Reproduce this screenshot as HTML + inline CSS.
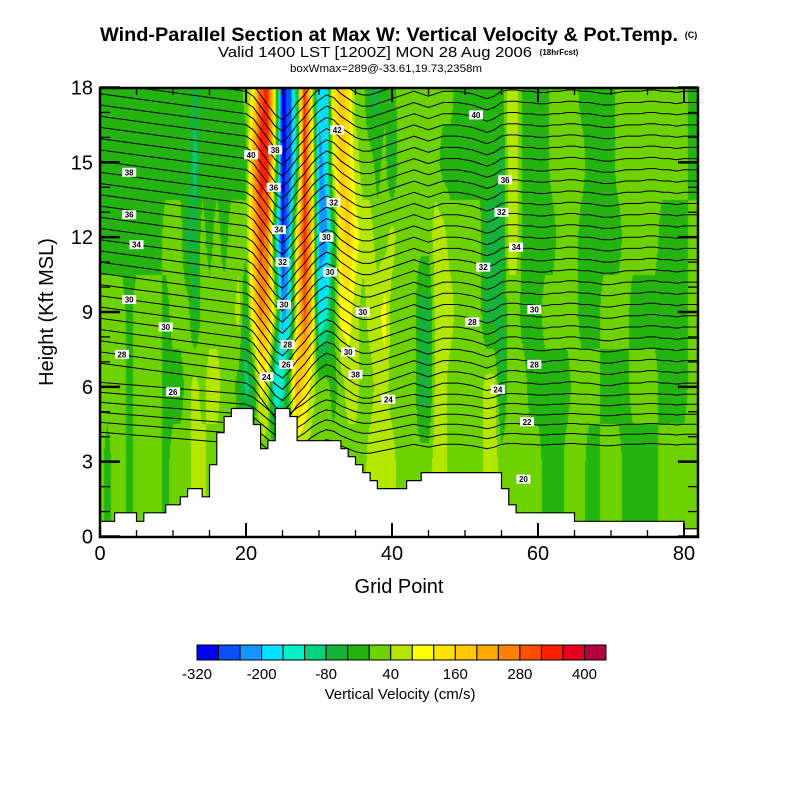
<!DOCTYPE html>
<html><head><meta charset="utf-8">
<style>
html,body{margin:0;padding:0;background:#fff;}
#wrap{position:relative;width:800px;height:800px;overflow:hidden;font-family:"Liberation Sans",Arial,sans-serif;}
#heat{position:absolute;left:100px;top:88px;}
#ov{position:absolute;left:0;top:0;}
</style></head>
<body>
<div id="wrap">
<canvas id="heat" width="598" height="449"></canvas>
<svg id="ov" width="800" height="800" xmlns="http://www.w3.org/2000/svg">
  <defs><clipPath id="pc"><rect x="100" y="88" width="598" height="449"/></clipPath></defs>
  <g id="contours" clip-path="url(#pc)"></g>
  <g id="terrain" clip-path="url(#pc)"></g>
  <g id="clabels"></g>
  <g id="axes"></g>
  <text x="100" y="41" textLength="578" lengthAdjust="spacingAndGlyphs" font-size="19" font-weight="bold">Wind-Parallel Section at Max W: Vertical Velocity &amp; Pot.Temp.</text>
  <text x="691" y="38" text-anchor="middle" font-size="9" font-weight="bold">(C)</text>
  <text x="218" y="57" textLength="314" lengthAdjust="spacingAndGlyphs" font-size="14.5">Valid 1400 LST [1200Z] MON 28 Aug 2006</text>
  <text x="559" y="55" text-anchor="middle" font-size="8" font-weight="bold">(18hrFcst)</text>
  <text x="290" y="72" textLength="192" lengthAdjust="spacingAndGlyphs" font-size="11">boxWmax=289@-33.61,19.73,2358m</text>
  <text x="399" y="593" text-anchor="middle" font-size="20">Grid Point</text>
  <text transform="translate(53,312) rotate(-90)" text-anchor="middle" font-size="20">Height (Kft MSL)</text>
  <g id="cbar"></g>
  <text x="400" y="699" text-anchor="middle" font-size="15">Vertical Velocity (cm/s)</text>
</svg>
</div>
<script>
// ---- data ----
const levels = [18, 15, 12, 9, 6, 3];
const wRow18 = [-20,-20,-20,-20,-20,-20,-20,-20,-20,-20,-20,-20,-20,-60,-20,-20,-20,-20,-20,-20,20,100,300,340,60,-300,-260,-60,340,100,-180,-180,140,180,140,20,20,-60,-60,-20,-20,20,20,20,20,20,20,20,20,-20,-20,-20,-20,-20,-20,-20,60,60,-20,-20,-20,-20,20,20,20,20,-20,-20,-20,-20,-20,20,20,20,20,20,20,20,20,20,20,-20,-20];
const wRow15 = [-20,-20,-20,-20,-20,-20,-20,-20,-20,-20,-20,-20,-20,-100,-20,-20,-20,-20,-20,-20,-20,220,340,340,60,-300,-260,-100,340,140,-220,-180,100,180,140,60,20,20,-20,20,-60,20,20,20,20,20,20,-20,-20,-20,-20,-20,-20,-20,-20,-60,60,60,-20,-20,-20,-20,20,20,20,20,20,-20,-20,-20,-20,20,20,20,20,20,20,20,20,20,20,-20,-20];
const wRow12 = [-20,-20,-20,-20,-20,-20,-20,-20,-20,20,20,20,-60,-60,20,-20,20,-20,20,20,20,180,300,260,-100,-300,-180,140,340,180,-220,-220,-60,140,180,100,60,60,20,20,60,20,20,20,20,20,60,60,20,20,20,20,20,-60,-60,-60,60,60,-20,-20,-20,-20,-20,20,20,20,-20,-20,-20,-20,-20,-20,20,20,20,20,20,-20,-20,-20,-20,20,20];
const wRow9 = [20,20,20,20,-20,20,20,20,20,-20,20,20,20,-60,20,20,20,20,20,60,-60,140,260,220,60,-220,-180,100,300,180,-180,-140,-20,100,100,60,20,60,60,100,20,20,20,20,-60,-60,60,60,60,20,20,20,20,-60,-60,-60,20,20,-20,-20,-20,20,20,20,20,20,-20,-20,-20,20,20,20,20,-20,-20,-20,-20,-20,-20,-20,-20,20,20];
const wRow6 = [20,20,20,20,-20,20,20,20,20,-20,-20,-20,20,60,20,60,60,20,20,-20,-100,-60,100,60,-180,-140,20,220,140,60,20,20,-20,20,60,60,20,20,60,60,20,20,20,20,-60,-60,60,60,20,20,20,20,20,60,60,-60,20,20,20,-20,-20,-20,-20,-20,-20,20,20,20,20,-20,-20,-20,-20,20,20,20,20,-20,-20,-20,-20,20,20];
const wRow3 = [20,-20,20,20,-20,20,20,20,20,-20,20,20,20,60,60,20,20,20,20,20,20,20,20,20,20,20,20,20,20,20,20,20,20,20,20,20,20,60,60,60,60,20,20,20,20,20,60,60,20,20,20,20,20,60,60,20,20,20,20,20,20,-20,-20,-20,20,20,20,-20,-20,20,20,20,-20,-20,-20,-20,-20,20,20,20,20,20,20];
const wRows = [wRow18, wRow15, wRow12, wRow9, wRow6, wRow3];
const terrainKft = [0.61,0.61,0.95,0.95,0.95,0.61,0.95,0.95,0.95,1.27,1.27,1.59,1.92,1.92,1.59,2.88,4.16,4.81,5.13,5.13,5.13,4.49,3.52,3.84,5.13,5.13,4.81,3.84,3.84,3.84,3.84,3.84,3.84,3.52,3.2,2.88,2.56,2.24,1.92,1.92,1.92,1.92,2.24,2.24,2.56,2.56,2.56,2.56,2.56,2.56,2.56,2.56,2.56,2.56,2.56,1.92,1.27,0.95,0.95,0.95,0.95,0.95,0.95,0.95,0.95,0.61,0.61,0.61,0.61,0.61,0.61,0.61,0.61,0.61,0.61,0.61,0.61,0.61,0.61,0.61,0.31,0.31];
const thetaDisp = [0.8,0.76,0.72,0.68,0.64,0.6,0.56,0.52,0.48,0.44,0.4,0.36,0.32,0.28,0.24,0.2,0.16,0.12,0.08,0.04,0,-0.2,-0.6,-1.0,-1.4,-1.6,-1.3,-0.9,-0.6,-0.2,0.1,0.3,0.2,-0.1,-0.3,-0.5,-0.6,-0.6,-0.5,-0.4,-0.3,-0.2,-0.1,0,-0.1,-0.2,-0.1,0,0,0,-0.05,-0.1,-0.2,-0.3,-0.2,0,0.05,0.05,0,0,-0.05,-0.05,0,0,0.05,0.05,0,0,-0.05,-0.1,-0.1,-0.05,0,0,0,0.05,0.05,0,0,-0.05,0,0,0];
const thetaBase = [18.3,17.85,17.4,16.95,16.5,16.05,15.6,15.15,14.7,14.25,13.8,13.35,12.9,12.45,12.0,11.55,11.1,10.65,10.2,9.75,9.3,8.85,8.4,7.95,7.5,7.05,6.6,6.15,5.7,5.3,4.9,4.5,4.1,3.7];
const xTicks = [0, 20, 40, 60, 80];
const yTicks = [0, 3, 6, 9, 12, 15, 18];
const cbarLabels = [-320, -200, -80, 40, 160, 280, 400];
const bandColors = ['#0000ff','#0a50ff','#1496ff','#00e1ff','#00f0c8','#00d27d','#14b43c','#23b40f','#6ed200','#b4e600','#ffff00','#ffe100','#ffc800','#ffaa00','#ff8200','#ff5000','#ff1e00','#e6001e','#b4003c'];
const contourLabels = [
  {g:20.7,k:15.3,t:'40'},{g:24,k:15.5,t:'38'},{g:23.8,k:14.0,t:'36'},{g:24.5,k:12.3,t:'34'},{g:25,k:11.0,t:'32'},{g:25.2,k:9.3,t:'30'},{g:25.7,k:7.7,t:'28'},{g:25.5,k:6.9,t:'26'},{g:22.8,k:6.4,t:'24'},
  {g:4,k:14.6,t:'38'},{g:4,k:12.9,t:'36'},{g:5,k:11.7,t:'34'},{g:4,k:9.5,t:'30'},{g:9,k:8.4,t:'30'},{g:3,k:7.3,t:'28'},{g:10,k:5.8,t:'26'},
  {g:32.5,k:16.3,t:'42'},{g:32,k:13.4,t:'32'},{g:31,k:12.0,t:'30'},{g:31.5,k:10.6,t:'30'},{g:34,k:7.4,t:'30'},{g:36,k:9.0,t:'30'},{g:35,k:6.5,t:'38'},{g:39.5,k:5.5,t:'24'},
  {g:51.5,k:16.9,t:'40'},{g:55.5,k:14.3,t:'36'},{g:55,k:13.0,t:'32'},{g:57,k:11.6,t:'34'},{g:52.5,k:10.8,t:'32'},{g:59.5,k:9.1,t:'30'},{g:51,k:8.6,t:'28'},{g:59.5,k:6.9,t:'28'},{g:54.5,k:5.9,t:'24'},{g:58.5,k:4.6,t:'22'},{g:58,k:2.3,t:'20'}
];
// ---- scales ----
const X0 = 100, PXG = 7.3, YB = 536.5, PXK = 24.944;
function xS(g){ return X0 + g*PXG; }
function yS(k){ return YB - k*PXK; }
const NS = 'http://www.w3.org/2000/svg';
function mk(tag, attrs, parent){ const e=document.createElementNS(NS,tag); for(const a in attrs) e.setAttribute(a, attrs[a]); parent.appendChild(e); return e; }

// ---- heatmap ----
function wAt(g, k){
  let r = (levels[0]-k)/3; r = Math.max(0, Math.min(levels.length-1, r));
  const r0 = Math.floor(r), r1 = Math.min(levels.length-1, r0+1), fr = r-r0;
  const gc = Math.max(0, Math.min(82, g)); const c0 = Math.floor(gc), c1 = Math.min(82, c0+1), fc = gc-c0;
  const a = wRows[r0][c0]*(1-fc)+wRows[r0][c1]*fc;
  const b = wRows[r1][c0]*(1-fc)+wRows[r1][c1]*fc;
  return a*(1-fr)+b*fr;
}
function bandOf(w){ return Math.max(0, Math.min(bandColors.length-1, Math.floor((w+320)/40))); }
const cv = document.getElementById('heat'), ctx = cv.getContext('2d');
const rgb = bandColors.map(h=>[parseInt(h.substr(1,2),16),parseInt(h.substr(3,2),16),parseInt(h.substr(5,2),16)]);
const img = ctx.createImageData(cv.width, cv.height);
for(let py=0; py<cv.height; py++){
  const k = (YB - (88+py+0.5))/PXK;
  for(let px=0; px<cv.width; px++){
    const g = (100+px+0.5-X0)/PXG;
    const c = rgb[bandOf(wAt(g,k))];
    const i = (py*cv.width+px)*4;
    img.data[i]=c[0]; img.data[i+1]=c[1]; img.data[i+2]=c[2]; img.data[i+3]=255;
  }
}
ctx.putImageData(img,0,0);

// ---- isentropes ----
const cg = document.getElementById('contours');
thetaBase.forEach((b, li)=>{
  let d='';
  for(let g=0; g<=82; g++){
    const amp = b > 6 ? 1 : 0.6;
    d += (g===0?'M':'L') + xS(g).toFixed(1) + ' ' + yS(b + thetaDisp[g]*amp).toFixed(1) + ' ';
  }
  const p = mk('path',{d:d, fill:'none', stroke:'#000', 'stroke-width':'1'}, cg);
  
  
});

// ---- terrain ----
const tg = document.getElementById('terrain');
let td = 'M' + xS(0) + ' ' + (YB+2) + ' ';
terrainKft.forEach((h, g)=>{ td += 'L' + xS(g) + ' ' + yS(h).toFixed(1) + ' L' + xS(g+1) + ' ' + yS(h).toFixed(1) + ' '; });
td += 'L' + xS(terrainKft.length) + ' ' + (YB+2) + ' Z';
const tp = mk('path',{d:td, fill:'#fff', stroke:'#000', 'stroke-width':'1.2'}, tg);



// ---- contour labels ----
const lg = document.getElementById('clabels');
contourLabels.forEach(c=>{
  const x = xS(c.g), y = yS(c.k);
  const r = mk('rect',{x:x-7, y:y-4.5, width:14, height:9, fill:'#fff'}, lg);
  
  
  const t = mk('text',{x:x, y:y+3, 'text-anchor':'middle', 'font-size':'8', 'font-weight':'bold'}, lg);
  t.textContent = c.t;
  
  
});

// ---- axes ----
const ag = document.getElementById('axes');
const frame = mk('rect',{x:100, y:88, width:598, height:449, fill:'none', stroke:'#000', 'stroke-width':'2.5'}, ag);


for(let g=0; g<=80; g+=5){
  const major = g%20===0, L = major?14:7, x = xS(g);
  const t1 = mk('line',{x1:x, y1:537, x2:x, y2:537-L, stroke:'#000', 'stroke-width':major?2:1.3}, ag);
  
  
  const t2 = mk('line',{x1:x, y1:88, x2:x, y2:88+L, stroke:'#000', 'stroke-width':major?2:1.3}, ag);
  
  
}
xTicks.forEach(v=>{
  const t = mk('text',{x:xS(v), y:560, 'text-anchor':'middle', 'font-size':'20'}, ag);
  t.textContent = v;
  
  
});
for(let k=0; k<=18; k++){
  const major = k%3===0, L = major?20:10, y = yS(k);
  const t1 = mk('line',{x1:100, y1:y, x2:100+L, y2:y, stroke:'#000', 'stroke-width':major?2.5:1.3}, ag);
  
  
  const t2 = mk('line',{x1:698, y1:y, x2:698-L, y2:y, stroke:'#000', 'stroke-width':major?2.5:1.3}, ag);
  
  
}
yTicks.forEach(v=>{
  const t = mk('text',{x:93, y:yS(v)+7, 'text-anchor':'end', 'font-size':'20'}, ag);
  t.textContent = v;
  
  
});

// ---- colorbar ----
const cb = document.getElementById('cbar');
const CB0 = 197, CBW = 409/bandColors.length;
bandColors.forEach((c,i)=>{
  const r = mk('rect',{x:CB0+i*CBW, y:645, width:CBW, height:15, fill:c, stroke:'#000', 'stroke-width':'1'}, cb);
  
  
});
cbarLabels.forEach(v=>{
  const t = mk('text',{x:CB0 + (v+320)/40*CBW, y:679, 'text-anchor':'middle', 'font-size':'15'}, cb);
  t.textContent = v;
  
  
});
</script>
</body></html>
